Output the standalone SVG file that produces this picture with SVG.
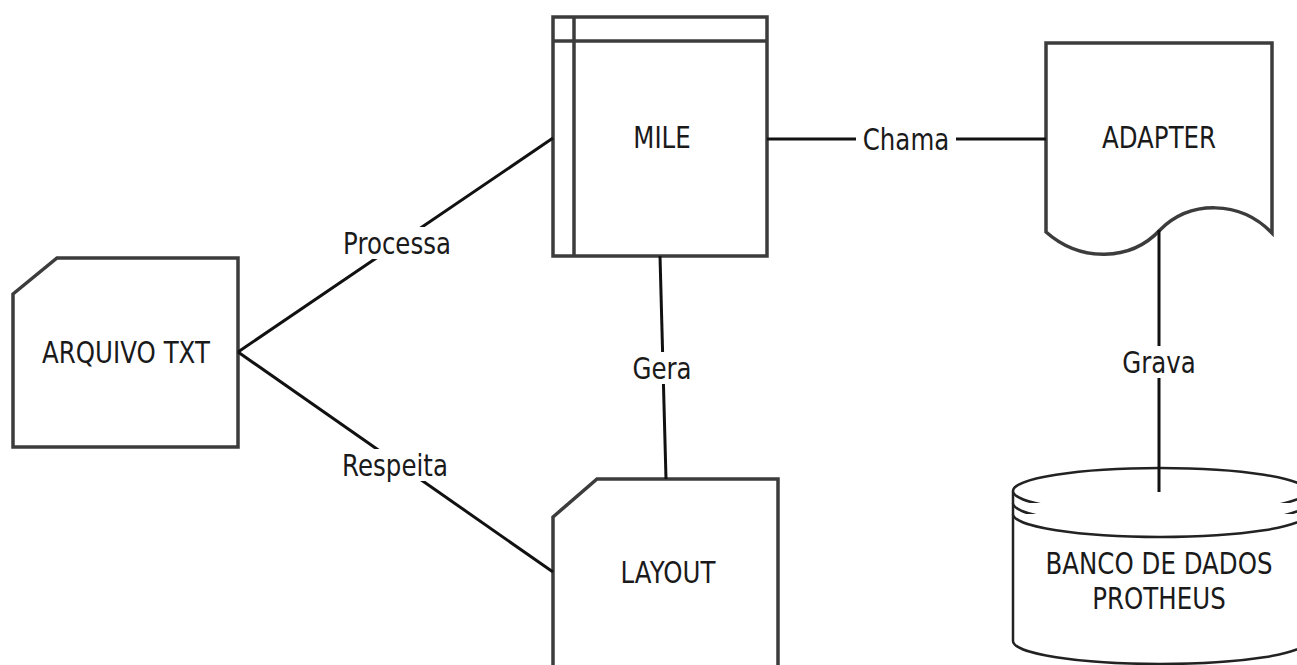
<svg xmlns="http://www.w3.org/2000/svg" width="1297" height="665" viewBox="0 0 1297 665">
<style>
.node{fill:#fff;stroke:#3c3c3c;stroke-width:3.5;stroke-linejoin:miter}
.db{fill:#fff;stroke:#222;stroke-width:2.5}
.edge{stroke:#111;stroke-width:3;fill:none}
.lbl{font-family:"DejaVu Sans",sans-serif;font-size:24.5px;fill:#1a1a1a;text-anchor:middle;dominant-baseline:central}
.bg{fill:#fff}
</style>
<rect width="1297" height="665" fill="#fff"/>
<g id="arquivo">
<path class="node" d="M13,294 L57,258 H238 V447 H13 Z"/>
<text class="lbl" transform="translate(126,352) scale(1,1.26)">ARQUIVO TXT</text>
</g>
<g id="mile">
<rect class="node" x="553" y="17" width="214" height="239"/>
<line class="node" x1="553" y1="41" x2="767" y2="41"/>
<line class="node" x1="574" y1="17" x2="574" y2="256"/>
<text class="lbl" transform="translate(662,137) scale(1,1.26)">MILE</text>
</g>
<g id="adapter">
<path class="node" d="M1046,43 H1272 V233 C1240,200 1190,200 1160,230 C1130,262 1080,262 1046,232 Z"/>
<text class="lbl" transform="translate(1159,137) scale(1,1.26)">ADAPTER</text>
</g>
<g id="layout">
<path class="node" d="M553,517 L597,479 H778 V680 H553 Z"/>
<text class="lbl" transform="translate(668,572) scale(1,1.26)">LAYOUT</text>
</g>
<g id="banco">
<path class="db" d="M1013,491 A147,23 0 0 1 1307,491 V641 A147,23 0 0 1 1013,641 Z"/>
<path class="db" fill="none" d="M1013,491 A147,23 0 0 0 1307,491"/>
<path class="db" fill="none" d="M1013,503 A147,23 0 0 0 1307,503"/>
<path class="db" fill="none" d="M1013,514 A147,23 0 0 0 1307,514"/>
<text class="lbl" transform="translate(1159,563) scale(1,1.26)">BANCO DE DADOS</text>
<text class="lbl" transform="translate(1159,598) scale(1,1.26)">PROTHEUS</text>
</g>
<g id="connectors">
<line class="edge" x1="238" y1="352" x2="553" y2="138"/>
<line class="edge" x1="238" y1="352" x2="553" y2="572"/>
<line class="edge" x1="660" y1="256" x2="666" y2="479"/>
<line class="edge" x1="767" y1="139" x2="1046" y2="139"/>
<line class="edge" x1="1159" y1="230" x2="1159" y2="492"/>
<rect class="bg" x="336" y="227" width="122" height="32"/>
<text class="lbl" transform="translate(397,243) scale(1,1.26)">Processa</text>
<rect class="bg" x="336" y="449" width="118" height="32"/>
<text class="lbl" transform="translate(395,465) scale(1,1.26)">Respeita</text>
<rect class="bg" x="630" y="352" width="64" height="32"/>
<text class="lbl" transform="translate(662,368) scale(1,1.26)">Gera</text>
<rect class="bg" x="856" y="123" width="100" height="32"/>
<text class="lbl" transform="translate(906,139) scale(1,1.26)">Chama</text>
<rect class="bg" x="1122" y="346" width="76" height="32"/>
<text class="lbl" transform="translate(1159,362) scale(1,1.26)">Grava</text>
</g>
</svg>
